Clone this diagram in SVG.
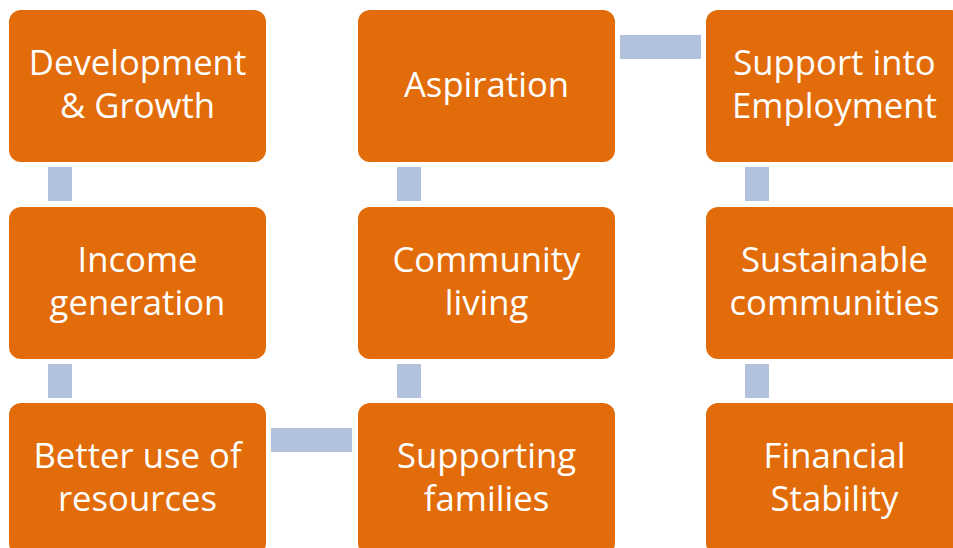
<svg xmlns="http://www.w3.org/2000/svg" width="953" height="548" viewBox="0 0 953 548">
<style>
.box{fill:#E36C0A;}
.lbl{fill:#FFFFFF;font-family:"Open Sans","Noto Sans",sans-serif;font-size:34.7px;text-anchor:middle;}
.con{fill:#B3C2DC;}
</style>
<rect width="953" height="548" fill="#FFFFFF"/>
<g id="connectors">
<rect class="con" x="48" y="167" width="24" height="34"/>
<rect class="con" x="48" y="364" width="24" height="34"/>
<rect class="con" x="271" y="428" width="81" height="24"/>
<rect class="con" x="397" y="364" width="24" height="34"/>
<rect class="con" x="397" y="167" width="24" height="34"/>
<rect class="con" x="620" y="35" width="81" height="24"/>
<rect class="con" x="745" y="167" width="24" height="34"/>
<rect class="con" x="745" y="364" width="24" height="34"/>
</g>
<g id="n1"><rect class="box" x="9" y="10" width="257" height="152" rx="12"/><text class="lbl" x="137.5" y="75">Development</text><text class="lbl" x="137.5" y="118">&amp; Growth</text></g>
<g id="n2"><rect class="box" x="9" y="207" width="257" height="152" rx="12"/><text class="lbl" x="137.5" y="272">Income</text><text class="lbl" x="137.5" y="315">generation</text></g>
<g id="n3"><rect class="box" x="9" y="403" width="257" height="152" rx="12"/><text class="lbl" x="137.5" y="468">Better use of</text><text class="lbl" x="137.5" y="511">resources</text></g>
<g id="n4"><rect class="box" x="358" y="10" width="257" height="152" rx="12"/><text class="lbl" x="486.5" y="97">Aspiration</text></g>
<g id="n5"><rect class="box" x="358" y="207" width="257" height="152" rx="12"/><text class="lbl" x="486.5" y="272">Community</text><text class="lbl" x="486.5" y="315">living</text></g>
<g id="n6"><rect class="box" x="358" y="403" width="257" height="152" rx="12"/><text class="lbl" x="486.5" y="468">Supporting</text><text class="lbl" x="486.5" y="511">families</text></g>
<g id="n7"><rect class="box" x="706" y="10" width="257" height="152" rx="12"/><text class="lbl" x="834.5" y="75">Support into</text><text class="lbl" x="834.5" y="118">Employment</text></g>
<g id="n8"><rect class="box" x="706" y="207" width="257" height="152" rx="12"/><text class="lbl" x="834.5" y="272">Sustainable</text><text class="lbl" x="834.5" y="315">communities</text></g>
<g id="n9"><rect class="box" x="706" y="403" width="257" height="152" rx="12"/><text class="lbl" x="834.5" y="468">Financial</text><text class="lbl" x="834.5" y="511">Stability</text></g>
</svg>
